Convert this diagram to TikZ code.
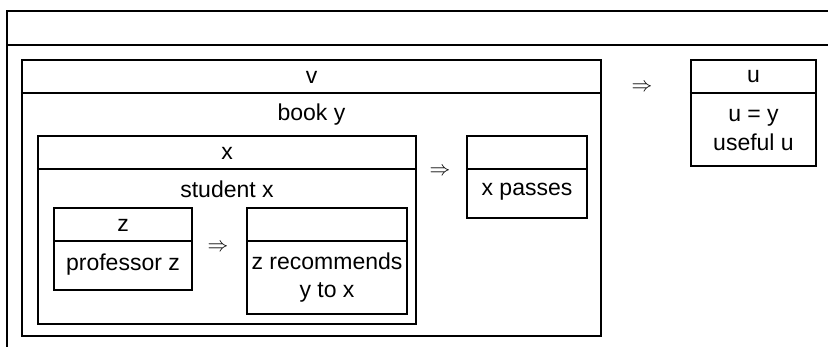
\documentclass[tikz,border=0pt]{standalone}
\usepackage{fontspec}
\setmainfont{Liberation Sans}
\usetikzlibrary{calc}
\begin{document}
\begin{tikzpicture}[x=1pt,y=-1pt,
  box/.style={draw,line width=2.4pt,inner sep=0pt,rectangle},
  rule/.style={line width=2.4pt},
  lbl/.style={anchor=base,inner sep=0pt,font=\fontsize{23}{28}\selectfont},
  imp/.style={inner sep=0pt,font=\fontsize{20}{24}\selectfont}]
\useasboundingbox (0,0) rectangle (828,347);
\begin{scope}
  \clip (0,0) rectangle (828,347);
  \draw[rule] (7,400) -- (7,11) -- (900,11);
  \draw[rule] (7,45) -- (900,45);
\end{scope}
% boxes
\node[box,minimum width=579pt,minimum height=276pt] (v) at (311.5,198) {};
\node[box,minimum width=378pt,minimum height=188pt] (x) at (227,230) {};
\node[box,minimum width=138pt,minimum height=82pt] (z) at (123,249) {};
\node[box,minimum width=160pt,minimum height=106pt] (zr) at (327,261) {};
\node[box,minimum width=120pt,minimum height=82pt] (xp) at (527,177) {};
\node[box,minimum width=125pt,minimum height=106pt] (u) at (753.5,113) {};
\foreach \b in {v,x,z,zr,xp,u}
  \draw[rule] ($(\b.north west)+(0,34)$) -- ($(\b.north east)+(0,34)$);
% texts
\node[lbl] (tv) at (311.5,84) {v};
\node[lbl] (tbook) at (311.5,121) {book y};
\node[lbl] (tx) at (227,160) {x};
\node[lbl] (tstu) at (227,198) {student x};
\node[lbl] (tz) at (123,232) {z};
\node[lbl] (tprof) at (123,271) {professor z};
\node[lbl] (tzr1) at (327,270) {z recommends};
\node[lbl] (tzr2) at (327,298) {y to x};
\node[lbl] (txp) at (527,196) {x passes};
\node[lbl] (tu) at (753.5,83) {u};
\node[lbl] (tuy) at (753.5,122) {u = y};
\node[lbl] (tuse) at (753.5,151) {useful u};
% implications
\node[imp] (i1) at (642,88) {$\Rightarrow$};
\node[imp] (i2) at (440,172) {$\Rightarrow$};
\node[imp] (i3) at (218,248) {$\Rightarrow$};
\end{tikzpicture}
\end{document}
